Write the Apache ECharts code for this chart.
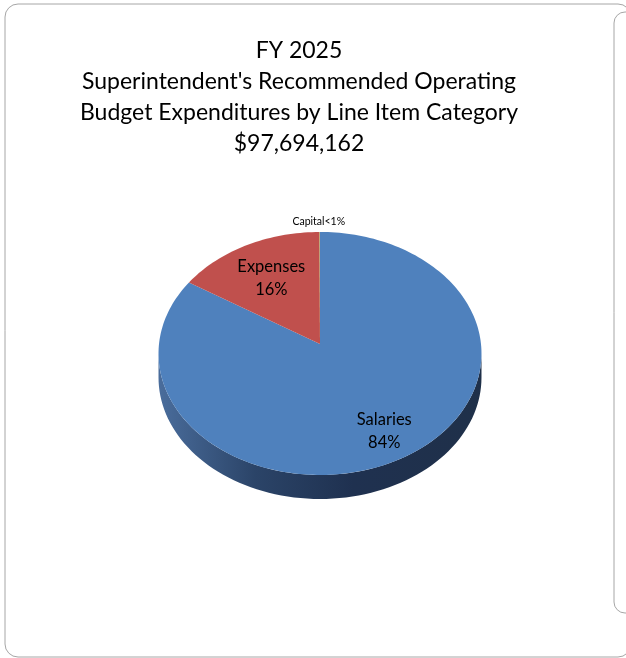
<!DOCTYPE html>
<html>
<head>
<meta charset="utf-8">
<script src="https://cdn.jsdelivr.net/npm/echarts@6/dist/echarts.min.js"></script>
<style>
html,body{margin:0;padding:0;background:#ffffff;}
#chart{width:626px;height:658px;}
</style>
</head>
<body>
<div id="chart"></div>
<script>
// ---- data ----
const titleLines = ["FY 2025", "Superintendent's Recommended Operating", "Budget Expenditures by Line Item Category", "$97,694,162"];
const categories = ['Salaries', 'Expenses', 'Capital'];
const values = [83.9, 16.05, 0.05];
const sliceColors = ['#4f81bd', '#c0504d', '#9bbb59'];

// ---- geometry (style) ----
const G = { cx: 320, cy: 344, kx: 161, ky: 120.76, b: 0.078, depth: 24 };
const labelRadius = [0.78, 0.65, 1.0];

const total = values.reduce((a, c) => a + c, 0);
const starts = [];
let acc = 0;
values.forEach(v => { starts.push(acc / total * Math.PI * 2); acc += v; });

function proj(phi, r) {
  const u = Math.sin(phi) * r, v = -Math.cos(phi) * r;
  const d = 1 - G.b * v;
  return [G.cx + G.kx * u / d, G.cy + G.ky * v / d];
}
function pctLabel(v) {
  const p = v / total * 100;
  return p < 1 ? '<1%' : Math.round(p) + '%';
}

const visA = Math.acos(-G.b), visB = Math.PI * 2 - Math.acos(-G.b);

function renderSide(params, api) {
  const i = params.dataIndex;
  const a0 = starts[i], a1 = a0 + api.value(1) / total * Math.PI * 2;
  const s = Math.max(a0, visA), e = Math.min(a1, visB);
  if (e <= s) return null;
  const n = 80, top = [], bot = [];
  for (let k = 0; k <= n; k++) {
    const p = proj(s + (e - s) * k / n, 1);
    top.push(p);
    bot.push([p[0], p[1] + G.depth]);
  }
  const pts = top.concat(bot.reverse());
  const base = sliceColors[i];
  const fill = i === 0 ? new echarts.graphic.LinearGradient(158, 0, 482, 0, [
    { offset: 0, color: '#4a6d9c' },
    { offset: 0.3, color: '#2b4468' },
    { offset: 0.6, color: '#1f3150' },
    { offset: 1, color: '#1f3049' }
  ], true) : echarts.color.lift(base, -0.45);
  return { type: 'polygon', shape: { points: pts }, style: { fill: fill, stroke: null } };
}

function renderTop(params, api) {
  const i = params.dataIndex;
  const a0 = starts[i], a1 = a0 + api.value(1) / total * Math.PI * 2;
  const n = Math.max(4, Math.ceil((a1 - a0) / (Math.PI * 2) * 240));
  const pts = [proj(0, 0)];
  for (let k = 0; k <= n; k++) pts.push(proj(a0 + (a1 - a0) * k / n, 1));
  const mid = (a0 + a1) / 2;
  const children = [{ type: 'polygon', shape: { points: pts }, style: { fill: sliceColors[i], stroke: null } }];
  const pct = api.value(1) / total * 100;
  if (pct >= 1) {
    const lp = proj(mid, labelRadius[i]);
    children.push({
      type: 'text', x: lp[0], y: lp[1],
      style: { text: categories[i] + '\n' + pctLabel(api.value(1)), fill: '#000', font: '16.5px Lato', align: 'center', verticalAlign: 'middle', lineHeight: 23 }
    });
  } else {
    const lp = proj(mid, labelRadius[i]);
    children.push({
      type: 'text', x: lp[0] - 1, y: lp[1] - 10,
      style: { text: categories[i] + pctLabel(api.value(1)), fill: '#000', font: '10.5px Lato', align: 'center', verticalAlign: 'middle' }
    });
  }
  return { type: 'group', children: children };
}

const seriesData = categories.map((c, i) => ({ name: c, value: [i, values[i]] }));

const chart = echarts.init(document.getElementById('chart'), null, { renderer: 'canvas' });
chart.setOption({
  backgroundColor: '#ffffff',
  animation: false,
  title: {
    text: titleLines.join('\n'),
    left: 294, top: 30, textAlign: 'center',
    textStyle: { fontFamily: 'Lato', fontSize: 23, fontWeight: 'normal', color: '#000', lineHeight: 31 }
  },
  graphic: [
    { type: 'rect', z: -10, shape: { x: 5, y: 4, width: 626, height: 653, r: 13 }, style: { fill: '#fff', stroke: '#a6a6a6', lineWidth: 1 } },
    { type: 'rect', z: -9, shape: { x: 614, y: 12, width: 40, height: 601, r: 11 }, style: { fill: '#fff', stroke: '#a6a6a6', lineWidth: 1 } }
  ],
  series: [
    { type: 'custom', coordinateSystem: 'none', renderItem: renderSide, data: seriesData, z: 1, silent: true },
    { type: 'custom', coordinateSystem: 'none', renderItem: renderTop, data: seriesData, z: 2, silent: true }
  ]
});
</script>
</body>
</html>
